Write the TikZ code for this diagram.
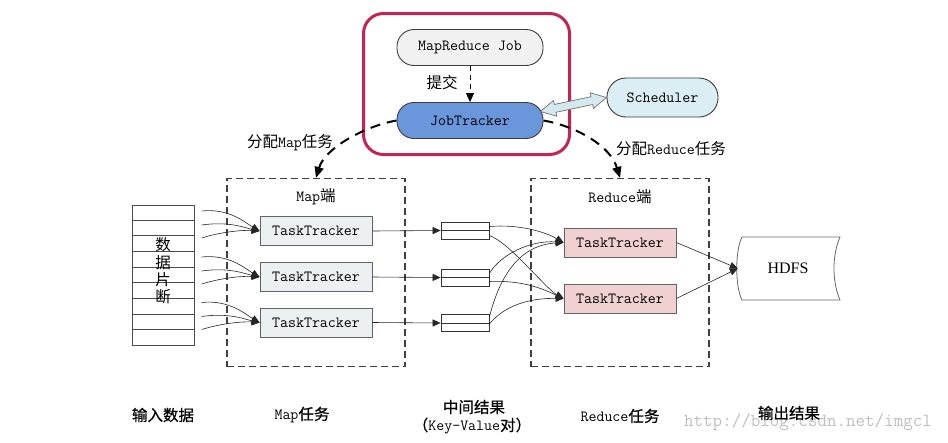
\documentclass[tikz,border=0pt]{standalone}
\usepackage{fontspec}
\newfontfamily\cjkfont{Noto Sans CJK SC}
\newfontfamily\cjkbfont[FakeBold=0.6]{Noto Sans CJK SC}
\newfontfamily\hdfsfont{Liberation Serif}
\usetikzlibrary{arrows.meta,calc}
\newcommand\zh[1]{{\cjkfont #1}}
\newcommand\zhb[1]{{\cjkbfont #1}}
\definecolor{frameRed}{RGB}{196,36,82}
\definecolor{jobGray}{RGB}{241,241,241}
\definecolor{jtBlue}{RGB}{106,150,220}
\definecolor{schCyan}{RGB}{218,238,243}
\definecolor{mapFill}{RGB}{235,240,243}
\definecolor{redFill}{RGB}{240,208,208}
\definecolor{dblFill}{RGB}{212,232,240}
\definecolor{edgeGray}{RGB}{60,60,60}
\begin{document}
\begin{tikzpicture}[x=1pt,y=-1pt,
  base/.style={font=\fontsize{15.5}{18}\selectfont\ttfamily},
  pill/.style={base, draw=edgeGray, line width=0.9pt, rounded corners=17pt, minimum width=146pt, minimum height=36pt, inner sep=0pt},
  ttbox/.style={base, draw=edgeGray!80, line width=0.8pt, minimum width=112pt, minimum height=29pt, inner sep=0pt},
  dashbox/.style={draw=black!75, line width=1.2pt, dash pattern=on 7pt off 4pt, minimum width=178pt, minimum height=188pt, inner sep=0pt},
  midbox/.style={draw=black!80, line width=0.8pt, minimum width=48pt, minimum height=17pt, inner sep=0pt},
  arr/.style={-{Triangle[length=8pt,width=7pt]}, line width=0.6pt, draw=black!85},
  bigarr/.style={-{Triangle[length=11pt,width=9pt]}, line width=2pt, dash pattern=on 10pt off 7pt},
  txt/.style={base, inner sep=0pt}
]
\useasboundingbox (0,0) rectangle (948,442);
\fill[white] (0,0) rectangle (948,442);

% top part
\node[draw=frameRed, line width=3pt, rounded corners=20pt, minimum width=206pt, minimum height=141pt] (frame) at (466.5,84) {};
\node[pill, fill=jobGray] (job) at (470,47.5) {MapReduce Job};
\node[pill, fill=jtBlue] (jt) at (470,120.5) {JobTracker};
\node[pill, fill=schCyan, minimum width=111pt, minimum height=39pt, rounded corners=19pt] (sch) at (662.5,97.5) {Scheduler};
\node[txt] (submit) at (442,83) {\zh{提交}};
\draw[line width=0.8pt, dash pattern=on 5pt off 4pt, -{Triangle[length=9pt,width=8pt]}] (job) -- (jt);

% double arrow JobTracker <-> Scheduler
\coordinate (da) at ($(jt.east)+(-3,-9)$);
\coordinate (db) at (sch.west);
\coordinate (h1) at ($(da)!15pt!(db)$);
\coordinate (h2) at ($(db)!15pt!(da)$);
\filldraw[fill=dblFill, draw=black!55, line width=0.7pt] (da) -- ($(h1)!8pt!90:(db)$) -- ($(h1)!4pt!90:(db)$) -- ($(h2)!4pt!-90:(da)$) -- ($(h2)!8pt!-90:(da)$) -- (db) -- ($(h2)!8pt!90:(da)$) -- ($(h2)!4pt!90:(da)$) -- ($(h1)!4pt!-90:(db)$) -- ($(h1)!8pt!-90:(db)$) -- cycle;

% dashed boxes
\node[dashbox] (mapbox) at (316,272.5) {};
\node[dashbox] (redbox) at (620,272.5) {};
\node[txt] (maptitle) at (316,197) {Map\zh{端}};
\node[txt] (redtitle) at (620,197) {Reduce\zh{端}};

% assignment arrows
\draw[bigarr] (jt.west) .. controls (365,126) and (325,148) .. (mapbox.north);
\draw[bigarr] (jt.east) .. controls (575,126) and (610,145) .. (redbox.north);
\node[txt] (lmap) at (290,143) {\zh{分配}Map\zh{任务}};
\node[txt] (lred) at (671,149) {\zh{分配}Reduce\zh{任务}};

% task trackers
\node[ttbox, fill=mapFill] (mt1) at (316,231) {TaskTracker};
\node[ttbox, fill=mapFill] (mt2) at (316,277) {TaskTracker};
\node[ttbox, fill=mapFill] (mt3) at (316,322.5) {TaskTracker};
\node[ttbox, fill=redFill] (rt1) at (620,242.5) {TaskTracker};
\node[ttbox, fill=redFill] (rt2) at (620,298.5) {TaskTracker};

% data block
\node[draw=black!70, line width=0.8pt, minimum width=62pt, minimum height=140pt, inner sep=0pt] (data) at (163,275) {};
\foreach \i in {1,...,8}{
  \draw[black!70, line width=0.8pt] ($(data.north west)!\i/9!(data.south west)$) -- ($(data.north east)!\i/9!(data.south east)$);
}
\node[txt] (d1) at (163,245) {\zh{数}};
\node[txt] (d2) at (163,263) {\zh{据}};
\node[txt] (d3) at (163,280) {\zh{片}};
\node[txt] (d4) at (163,297) {\zh{断}};

% input curves
\foreach \n in {mt1,mt2,mt3}{
  \coordinate (\n a) at ($(\n.west)+(-58,-20)$);
  \coordinate (\n b) at ($(\n.west)+(-58,-6)$);
  \coordinate (\n c) at ($(\n.west)+(-58,7)$);
  \draw[arr] (\n a) .. controls ($(\n.west)+(-30,-23)$) and ($(\n.west)+(-14,-8)$) .. (\n.west);
  \draw[arr] (\n b) .. controls ($(\n.west)+(-30,-10)$) and ($(\n.west)+(-14,-3)$) .. (\n.west);
  \draw[arr] (\n c) .. controls ($(\n.west)+(-35,0)$) and ($(\n.west)+(-15,-1)$) .. (\n.west);
}

% intermediate results
\node[midbox] (m1) at (465,230.5) {};
\node[midbox] (m2) at (465,277.5) {};
\node[midbox] (m3) at (465,323) {};
\foreach \m in {m1,m2,m3}{\draw[black!80, line width=0.8pt] (\m.west) -- (\m.east);}
\draw[arr] (mt1.east) -- (m1.west);
\draw[arr] (mt2.east) -- (m2.west);
\draw[arr] (mt3.east) -- (m3.west);

% shuffle
\draw[arr] ($(m1.east)+(0,-4)$) .. controls (520,224) and (545,232) .. (rt1.west);
\draw[arr] ($(m1.east)+(0,5)$) .. controls (510,243) and (545,288) .. (rt2.west);
\draw[arr] ($(m2.east)+(0,-4)$) .. controls (500,255) and (530,240) .. (rt1.west);
\draw[arr] ($(m2.east)+(0,4)$) .. controls (525,280) and (545,290) .. (rt2.west);
\draw[arr] ($(m3.east)+(0,-6)$) .. controls (500,275) and (520,245) .. (rt1.west);
\draw[arr] ($(m3.east)+(0,1)$) .. controls (505,305) and (530,298) .. (rt2.west);

% HDFS
\node[font=\hdfsfont\fontsize{16}{19}\selectfont, minimum width=100pt, minimum height=63pt, inner sep=0pt] (hdfs) at (788,268.5) {HDFS};
\draw[black!60, line width=0.8pt] (742,237) -- (840,237) .. controls (832,255) and (832,282) .. (840,300) -- (742,300) .. controls (735,287) and (735,250) .. cycle;
\draw[arr] (rt1.east) -- (hdfs.west);
\draw[arr] (rt2.east) -- (hdfs.west);

% bottom labels
\node[font=\fontsize{18.5}{20}\selectfont\ttfamily, text=black!25, inner sep=0pt] (wm) at (808,422) {http://blog.csdn.net/imgcl};
\node[txt] (b1) at (163,415) {\zhb{输入数据}};
\node[txt] (b2) at (302,415) {Map\zhb{任务}};
\node[txt] (b3) at (474,407) {\zhb{中间结果}};
\node[txt] (b3b) at (472,426) {\zhb{（}Key-Value\zhb{对）}};
\node[txt] (b4) at (620,416) {Reduce\zhb{任务}};
\node[txt] (b5) at (789,413) {\zhb{输出结果}};
\end{tikzpicture}
\end{document}
